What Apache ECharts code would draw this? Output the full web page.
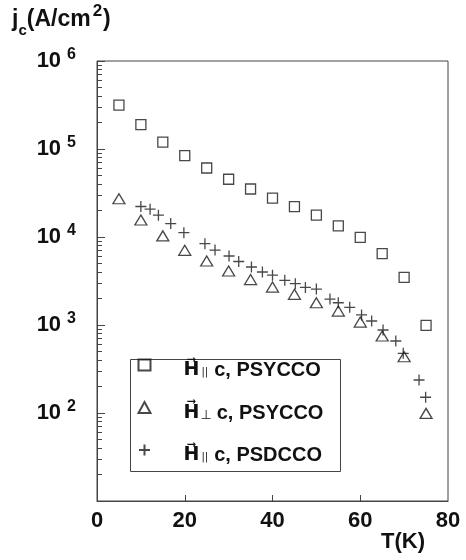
<!DOCTYPE html>
<html><head><meta charset="utf-8">
<script src="https://cdn.jsdelivr.net/npm/echarts@6/dist/echarts.min.js"></script>
<style>html,body{margin:0;padding:0;background:#fff}#c{width:466px;height:560px}</style>
</head><body><div id="c"></div>
<script>
// ---- data ----
const T_sq = [5,10,15,20,25,30,35,40,45,50,55,60,65,70,75];
const jc_sq = [316000,189000,120000,84000,60800,45300,35100,27700,22100,17700,13400,9900,6460,3470,990];
const T_tri = [5,10,15,20,25,30,35,40,45,50,55,60,65,70,75];
const jc_tri = [27200,15600,10300,7060,5340,4110,3280,2700,2230,1790,1440,1080,750,436,99];
const T_plus = [10,12.1,14,16.8,19.8,24.6,26.9,30.1,32.3,35.2,37.7,40,42.8,45.2,47.5,50,53.1,55,57.6,60.3,62.6,65.2,68.1,69.8,73.4,74.9];
const jc_plus = [22200,20700,17700,14200,11200,8400,7100,6080,5270,4560,4000,3680,3220,2950,2670,2560,1970,1790,1590,1300,1110,877,658,477,237,151];
const seriesNames = ['H\u2225c, PSYCCO','H\u22A5c, PSYCCO','H\u2225c, PSDCCO'];
const xLabelValues = [0,20,40,60,80];
const xTickValues = [20,40,60];
const yLabelValues = [100,1000,10000,100000,1000000];
const yMajorValues = [10,100,1000,10000,100000,1000000];
const yMinorMult = [2,3,4,5,6,7,8,9];
const yMinorValues = [];
[10,100,1000,10000,100000].forEach(d => yMinorMult.forEach(m => yMinorValues.push(m*d)));

const FONT = '"Liberation Sans", Arial, sans-serif';
const INK = '#111';
const AX = '#444';
const W = 'bold';

const chart = echarts.init(document.getElementById('c'), null, {renderer:'canvas'});
const mk = (xs, ys) => xs.map((x,i)=>[x, ys[i]]);
const markStyle = {color:'none', borderColor:'#1a1a1a', borderWidth:1.3};

const legendRich = {
  h:{fontFamily:'"DejaVu Sans", sans-serif', fontWeight:W, fontSize:19, color:INK, padding:[11,0,0,28]},
  par:{fontFamily:'"DejaVu Sans", sans-serif', fontSize:10, color:INK, padding:[15,3,0,2]},
  perp:{fontFamily:'"DejaVu Sans", sans-serif', fontSize:13, color:INK, padding:[17,2,0,1]},
  t:{fontFamily:FONT, fontWeight:W, fontSize:20, color:INK, padding:[11,0,0,3]}
};
const legendText = {};
legendText[seriesNames[0]] = '{h|H\u20D7}{par|||}{t|c, PSYCCO}';
legendText[seriesNames[1]] = '{h|H\u20D7}{perp|\u22A5}{t|c, PSYCCO}';
legendText[seriesNames[2]] = '{h|H\u20D7}{par|||}{t|c, PSDCCO}';

const option = {
  animation:false,
  backgroundColor:'#fff',
  grid:{left:97, right:18, top:61, bottom:59, show:true, borderColor:AX, borderWidth:1, backgroundColor:'transparent'},
  xAxis:{
    type:'value', min:0, max:80, interval:20,
    axisLine:{show:true, lineStyle:{color:AX, width:1}},
    axisTick:{show:true, inside:true, length:6, customValues:xTickValues, lineStyle:{color:AX}},
    axisLabel:{customValues:xLabelValues, margin:9, fontFamily:FONT, fontWeight:W, fontSize:22, color:INK},
    splitLine:{show:false}
  },
  yAxis:[{
    type:'log', logBase:10, min:10, max:1000000,
    axisLine:{show:true, lineStyle:{color:AX, width:1}},
    axisTick:{show:true, inside:true, length:8, customValues:yMajorValues, lineStyle:{color:AX}},
    axisLabel:{
      customValues:yLabelValues, margin:21, fontFamily:FONT, color:INK,
      formatter:function(v){ const e=Math.round(Math.log10(v)); return '{b|10}{s|'+e+'}'; },
      rich:{b:{fontFamily:FONT,fontWeight:W,fontSize:22,color:INK}, s:{fontFamily:FONT,fontWeight:W,fontSize:16,color:INK,padding:[0,0,12,6]}}
    },
    splitLine:{show:false}
  },{
    type:'log', logBase:10, min:10, max:1000000, position:'left',
    axisLine:{show:false},
    axisTick:{show:true, inside:true, length:5, customValues:yMinorValues, lineStyle:{color:AX}},
    axisLabel:{show:false},
    splitLine:{show:false}
  }],
  legend:{
    show:true, orient:'vertical', left:136, top:357, padding:0,
    itemWidth:12, itemHeight:11, itemGap:19,
    data:seriesNames,
    formatter:function(n){ return legendText[n]; },
    textStyle:{rich:legendRich}
  },
  graphic:[
    {type:'rect', left:128, top:357, shape:{width:210, height:112}, style:{fill:'none', stroke:AX, lineWidth:1}, silent:true},
    {type:'text', left:12, top:3, style:{
      text:'{a|j}{sub|c}{a|(A/cm}{sup|2}{a|)}', fill:INK,
      rich:{a:{fontFamily:FONT,fontWeight:W,fontSize:23,color:INK}, sub:{fontFamily:FONT,fontWeight:W,fontSize:15,color:INK,padding:[22,0,0,0]}, sup:{fontFamily:FONT,fontWeight:W,fontSize:17,color:INK,padding:[0,1,17,2]}}
    }},
    {type:'text', left:381, top:531, style:{text:'T(K)', font:'bold 22px '+FONT, fill:INK}}
  ],
  series:[
    {name:seriesNames[0], type:'scatter', yAxisIndex:0, symbol:'rect', symbolSize:10, itemStyle:markStyle, data:mk(T_sq, jc_sq)},
    {name:seriesNames[1], type:'scatter', yAxisIndex:0, symbol:'triangle', symbolSize:[12,10], itemStyle:markStyle, data:mk(T_tri, jc_tri)},
    {name:seriesNames[2], type:'scatter', yAxisIndex:0, symbol:'path://M5,0L5,10M0,5L10,5', symbolSize:11, itemStyle:markStyle, data:mk(T_plus, jc_plus)}
  ]
};
chart.setOption(option);
</script></body></html>
